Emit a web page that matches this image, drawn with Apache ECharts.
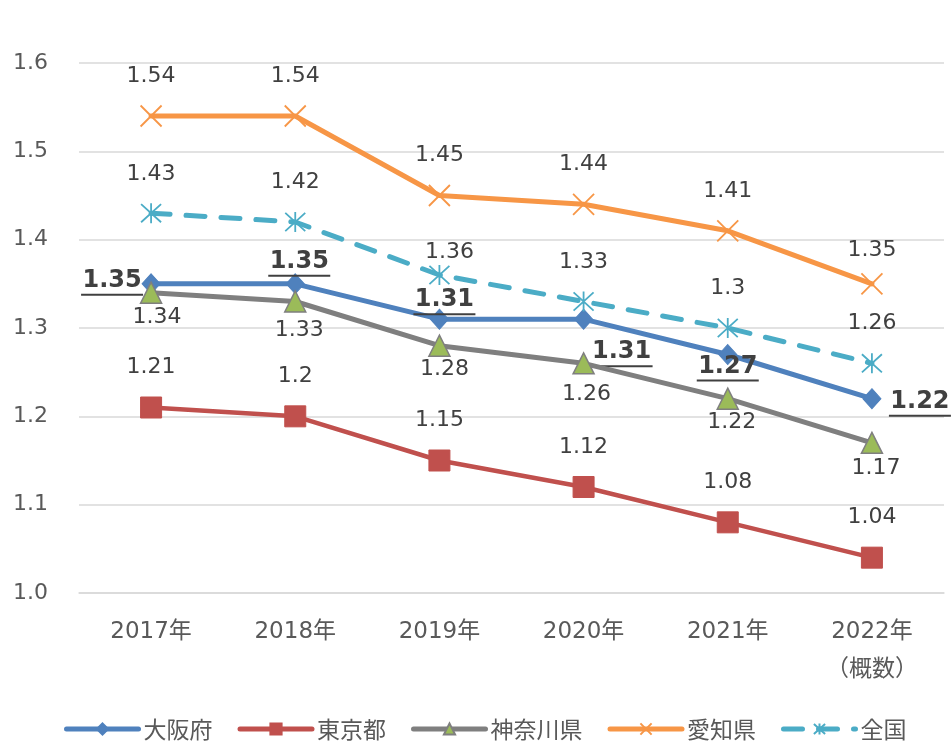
<!DOCTYPE html>
<html>
<head>
<meta charset="utf-8">
<script src="https://cdn.jsdelivr.net/npm/echarts@6/dist/echarts.min.js"></script>
<style>html,body{margin:0;padding:0;background:#fff;}#c{width:951px;height:750px;}</style>
</head>
<body>
<div id="c"></div>
<script>
// ---- data ----
const categories = ['2017年', '2018年', '2019年', '2020年', '2021年', '2022年'];
const seriesNames = ['大阪府', '東京都', '神奈川県', '愛知県', '全国'];
const osaka    = [1.35, 1.35, 1.31, 1.31, 1.27, 1.22];
const tokyo    = [1.21, 1.2, 1.15, 1.12, 1.08, 1.04];
const kanagawa = [1.34, 1.33, 1.28, 1.26, 1.22, 1.17];
const aichi    = [1.54, 1.54, 1.45, 1.44, 1.41, 1.35];
const national = [1.43, 1.42, 1.36, 1.33, 1.3, 1.26];
const yTicks = [1.0, 1.1, 1.2, 1.3, 1.4, 1.5, 1.6];
const lastCategoryNote = '（概数）';

// ---- label placement (offsets from each marker, px) ----
const offOsaka    = [[-39, -2], [4, -21], [5, -18], [38, 34], [0, 13], [48, 4]];
const offTokyo    = [[0, -40], [0, -40], [0, -40], [0, -40], [0, -40], [0, -40]];
const offKanagawa = [[6, 25], [4, 29], [5, 24], [3, 31], [4, 24], [4, 25]];
const offAichi    = [[0, -40], [0, -40], [0, -40], [0, -40], [0, -40], [0, -34]];
const offNational = [[0, -39], [0, -40], [10, -23], [0, -39], [0, -40], [0, -40]];

const FONT = "'DejaVu Sans', 'Noto Sans CJK JP', sans-serif";
const CJK = "'Noto Sans CJK JP', 'DejaVu Sans', sans-serif";
const labelColor = '#404040';

function plainLabel(offset) {
  return {
    show: true, position: 'inside', offset: offset,
    fontFamily: FONT, fontSize: 22, color: labelColor
  };
}
function boldLabel(offset) {
  return {
    show: true, position: 'inside', offset: offset,
    formatter: p => '{v|' + p.value + '}\n{u| }',
    rich: {
      v: { fontFamily: FONT, fontWeight: 'bold', fontSize: 24, color: labelColor, lineHeight: 26 },
      u: { width: 62, height: 2, lineHeight: 2, fontSize: 1, backgroundColor: labelColor }
    }
  };
}
function build(values, offsets, labelFn) {
  return values.map((v, i) => ({ value: v, label: labelFn(offsets[i]) }));
}

const xPath = 'path://M0,0L20,20M20,0L0,20';
const astPath = 'path://M0,0L20,20M20,0L0,20M10,-1L10,21';

const chart = echarts.init(document.getElementById('c'), null, { renderer: 'canvas' });
chart.setOption({
  animation: false,
  backgroundColor: '#ffffff',
  grid: { left: 79, right: 7, top: 63, bottom: 157, containLabel: false },
  xAxis: {
    type: 'category',
    data: categories,
    boundaryGap: true,
    axisLine: { lineStyle: { color: '#D9D9D9', width: 1.5 } },
    axisTick: { show: false },
    axisLabel: {
      margin: 20,
      fontFamily: FONT, fontSize: 23, color: '#595959', lineHeight: 38,
      formatter: (v, i) => i === categories.length - 1 ? v + '\n' + lastCategoryNote : v
    }
  },
  yAxis: {
    type: 'value',
    min: yTicks[0], max: yTicks[yTicks.length - 1], interval: 0.1,
    axisLine: { show: false },
    axisTick: { show: false },
    splitLine: { lineStyle: { color: '#D9D9D9', width: 1.5 } },
    axisLabel: {
      margin: 31, fontFamily: FONT, fontSize: 22, color: '#595959',
      formatter: v => v.toFixed(1)
    }
  },
  legend: {
    left: 64, top: 714, padding: 0,
    itemWidth: 72, itemHeight: 14, itemGap: 25,
    lineStyle: { width: 5, cap: 'round' },
    textStyle: { fontFamily: CJK, fontSize: 23, color: '#595959', lineHeight: 30 },
    data: seriesNames
  },
  series: [
    {
      name: seriesNames[0], type: 'line', data: build(osaka, offOsaka, boldLabel),
      symbol: 'diamond', symbolSize: [18, 20],
      lineStyle: { color: '#4F81BD', width: 5, cap: 'round' },
      itemStyle: { color: '#4F81BD', borderColor: '#4F81BD', borderWidth: 1 },
      emphasis: { disabled: true }, z: 2
    },
    {
      name: seriesNames[1], type: 'line', data: build(tokyo, offTokyo, plainLabel),
      symbol: 'rect', symbolSize: 21,
      lineStyle: { color: '#C0504D', width: 4.5, cap: 'round' },
      itemStyle: { color: '#C0504D', borderColor: '#C0504D', borderWidth: 1 },
      emphasis: { disabled: true }, z: 3
    },
    {
      name: seriesNames[2], type: 'line', data: build(kanagawa, offKanagawa, plainLabel),
      symbol: 'triangle', symbolSize: 21,
      lineStyle: { color: '#7F7F7F', width: 5, cap: 'round' },
      itemStyle: { color: '#9BBB59', borderColor: '#7F7F7F', borderWidth: 1.5 },
      emphasis: { disabled: true }, z: 4
    },
    {
      name: seriesNames[3], type: 'line', data: build(aichi, offAichi, plainLabel),
      symbol: xPath, symbolSize: 21,
      lineStyle: { color: '#F79646', width: 5, cap: 'round' },
      itemStyle: { color: '#F79646', borderColor: '#F79646', borderWidth: 1.8 },
      emphasis: { disabled: true }, z: 5
    },
    {
      name: seriesNames[4], type: 'line', data: build(national, offNational, plainLabel),
      symbol: astPath, symbolSize: 20,
      lineStyle: { color: '#4BACC6', width: 5, type: [19, 16], cap: 'round' },
      itemStyle: { color: '#4BACC6', borderColor: '#4BACC6', borderWidth: 1.8 },
      emphasis: { disabled: true }, z: 6
    }
  ]
});
</script>
</body>
</html>
